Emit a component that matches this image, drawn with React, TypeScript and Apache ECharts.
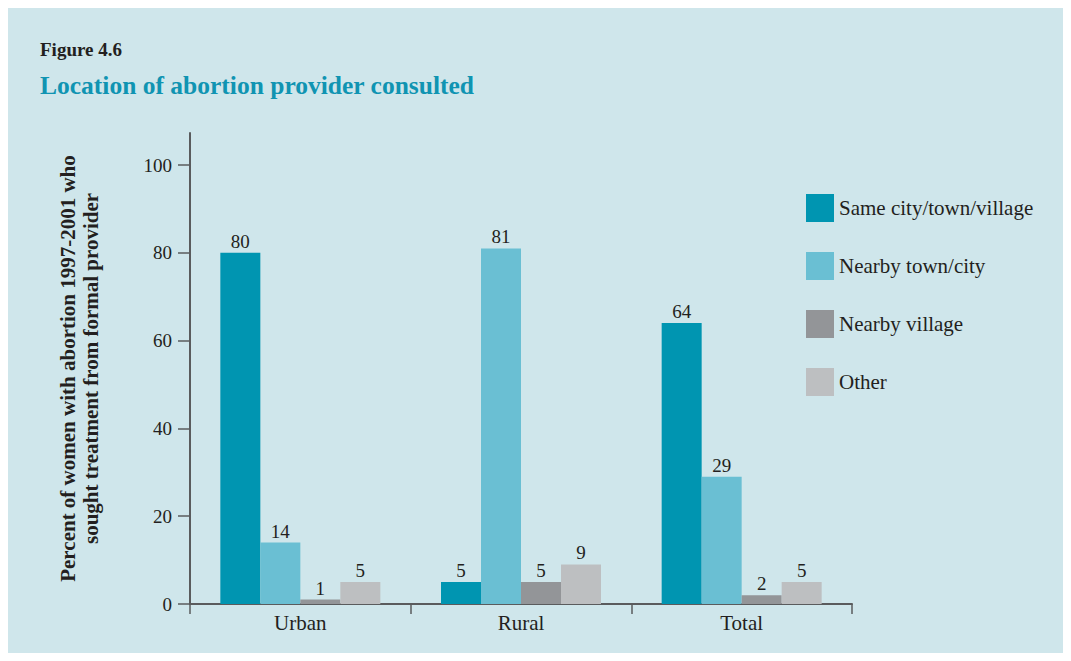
import React, { useEffect, useRef } from "react";
import * as echarts from "echarts";

const categories = ["Urban", "Rural", "Total"];
const seriesNames = ["Same city/town/village", "Nearby town/city", "Nearby village", "Other"];
const sameCity = [80, 5, 64];
const nearbyTown = [14, 81, 29];
const nearbyVillage = [1, 5, 2];
const other = [5, 9, 5];
const yTicks = [0, 20, 40, 60, 80, 100];

const colors = ["#0095b1", "#6abfd3", "#939598", "#bdbfc1"];
const FONT = "'Liberation Serif', 'DejaVu Serif', serif";
const TEXT = "#231f20";
const AXIS = "#5a5b5d";

export default function App() {
  const ref = useRef<HTMLDivElement>(null);
  useEffect(() => {
    if (!ref.current) return;
    const chart = echarts.init(ref.current, undefined, { renderer: "svg" });
    const values = [sameCity, nearbyTown, nearbyVillage, other];
    chart.setOption({
      animation: false,
      backgroundColor: "#cfe6eb",
      textStyle: { fontFamily: FONT, color: TEXT },
      title: [
        {
          text: "Figure 4.6",
          left: 27,
          top: 27,
          textStyle: { fontFamily: FONT, fontSize: 19, fontWeight: "bold", color: TEXT },
        },
        {
          text: "Location of abortion provider consulted",
          left: 27,
          top: 59,
          textStyle: { fontFamily: FONT, fontSize: 25.5, fontWeight: "bold", color: "#1094b2" },
        },
      ],
      legend: {
        orient: "vertical",
        left: 793,
        top: 181,
        itemWidth: 28,
        itemHeight: 28,
        itemGap: 30,
        icon: "rect",
        data: seriesNames,
        textStyle: { fontFamily: FONT, fontSize: 21, color: TEXT },
      },
      grid: { left: 182, right: 211, top: 125, bottom: 49, containLabel: false },
      xAxis: {
        type: "category",
        data: categories,
        boundaryGap: true,
        axisLine: { lineStyle: { color: AXIS, width: 2 } },
        axisTick: { show: true, length: 10, alignWithLabel: false, lineStyle: { color: AXIS, width: 1.5 } },
        axisLabel: { margin: 8, fontFamily: FONT, fontSize: 21, color: TEXT },
        splitLine: { show: false },
      },
      yAxis: {
        type: "value",
        min: 0,
        max: 107.3,
        interval: 20,
        name: "Percent of women with abortion 1997-2001 who\nsought treatment from formal provider",
        nameLocation: "middle",
        nameGap: 88,
        nameTextStyle: { fontFamily: FONT, fontSize: 21, fontWeight: "bold", color: TEXT, lineHeight: 23 },
        axisLine: { show: true, lineStyle: { color: AXIS, width: 2 } },
        axisTick: { show: true, length: 12, customValues: yTicks, lineStyle: { color: AXIS, width: 1.5 } },
        axisLabel: { margin: 18, customValues: yTicks, fontFamily: FONT, fontSize: 19, color: TEXT },
        splitLine: { show: false },
      },
      series: seriesNames.map((name, i) => ({
        name,
        type: "bar",
        data: values[i],
        barWidth: 40,
        barGap: "0%",
        itemStyle: { color: colors[i] },
        label: {
          show: true,
          position: "top",
          distance: 2,
          fontFamily: FONT,
          fontSize: 19,
          color: TEXT,
        },
      })),
    });
    return () => chart.dispose();
  }, []);
  return <div ref={ref} style={{ width: 1055, height: 645 }} />;
}
